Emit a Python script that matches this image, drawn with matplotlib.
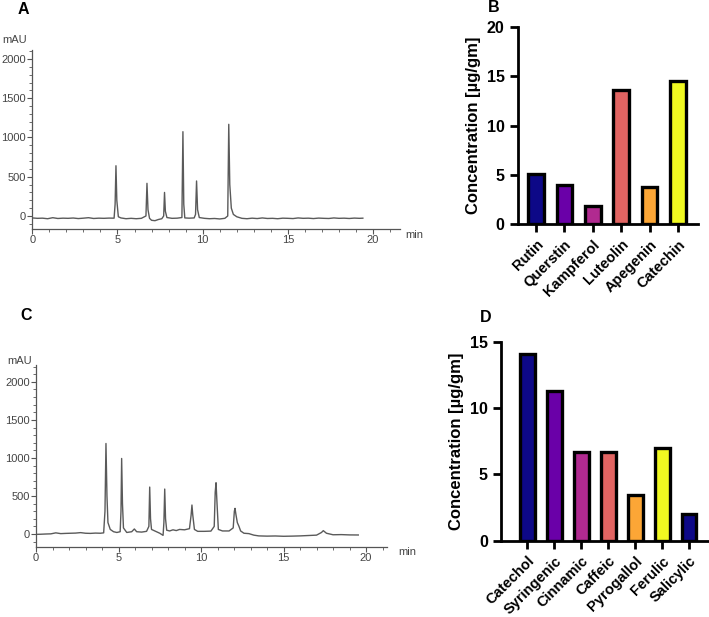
import matplotlib
matplotlib.use("Agg")
import matplotlib.pyplot as plt
from matplotlib.ticker import MultipleLocator

# ---------------- data ----------------
# Chromatogram A (time [min], signal [mAU])
tA = [0.0, 0.3, 0.6, 0.9, 1.2, 1.5, 1.8, 2.1, 2.4, 2.7, 3.0, 3.3, 3.6, 3.9, 4.2, 4.5, 4.8,
      4.86, 4.91, 4.96, 5.05, 5.2, 5.5, 5.8, 6.1, 6.4, 6.67, 6.73, 6.79, 6.88, 7.0, 7.2, 7.4,
      7.6, 7.71, 7.76, 7.81, 7.9, 8.2, 8.5, 8.78, 8.84, 8.89, 8.95, 9.2, 9.5, 9.58, 9.64, 9.70,
      9.8, 10.1, 10.4, 10.7, 11.0, 11.3, 11.47, 11.53, 11.59, 11.68, 11.8, 12.0, 12.3, 12.6,
      12.9, 13.2, 13.5, 13.8, 14.1, 14.4, 14.7, 15.0, 15.3, 15.6, 15.9, 16.2, 16.5, 16.8,
      17.1, 17.4, 17.7, 18.0, 18.3, 18.6, 18.9, 19.2, 19.4]
yA = [-25, -30, -28, -35, -22, -32, -28, -30, -26, -33, -28, -22, -32, -28, -30, -27, -28,
      150, 640, 200, -10, -25, -35, -30, -35, -30, 0, 416, 80, -30, -55, -60, -45,
      -35, 0, 300, 60, -20, -30, -28, -20, 1074, 150, -25, -28, -25, 20, 446, 80,
      -20, -30, -35, -32, -38, -30, 0, 1168, 400, 100, 20, -10, -30, -35,
      -28, -33, -25, -32, -30, -35, -28, -30, -33, -25, -30, -28, -33, -27,
      -30, -32, -25, -30, -28, -32, -27, -30, -28]

# Chromatogram C
tC = [0.0, 0.3, 0.6, 0.9, 1.2, 1.5, 1.8, 2.1, 2.4, 2.7, 3.0, 3.3, 3.6, 3.9, 4.1, 4.18, 4.24,
      4.30, 4.36, 4.5, 4.7, 4.9, 5.1, 5.15, 5.19, 5.24, 5.3, 5.5, 5.8, 5.96, 6.1, 6.4, 6.7,
      6.84, 6.89, 6.94, 7.0, 7.2, 7.5, 7.7, 7.75, 7.80, 7.85, 7.92, 8.1, 8.3, 8.5, 8.7, 9.0,
      9.3, 9.4, 9.45, 9.5, 9.6, 9.8, 10.2, 10.6, 10.8, 10.86, 10.91, 10.97, 11.05, 11.3,
      11.7, 11.95, 12.02, 12.06, 12.12, 12.2, 12.3, 12.4, 12.6, 12.9, 13.2, 13.5, 14.0,
      14.5, 15.0, 15.5, 16.0, 16.5, 17.0, 17.3, 17.41, 17.6, 18.0, 18.5, 19.0, 19.53]
yC = [-5, -3, 0, 2, 15, 5, 8, 10, 12, 18, 10, 8, 12, 10, 15, 300, 1190,
      500, 150, 60, 30, 20, 30, 300, 993, 400, 80, 20, 30, 66, 30, 25, 35,
      100, 617, 200, 60, 40, 10, -18, 150, 591, 200, 50, 40, 55, 45, 60, 55,
      70, 250, 381, 250, 60, 35, 35, 38, 100, 550, 674, 400, 60, 40,
      40, 80, 300, 337, 250, 150, 100, 40, 10, 5, -15, -25, -28,
      -26, -30, -28, -25, -20, -15, 20, 44, 10, -10, -8, -12, -13]

# Bar chart B (flavonoids)
catB = ["Rutin", "Querstin", "Kampferol", "Luteolin", "Apegenin", "Catechin"]
valB = [5.1, 4.0, 1.9, 13.6, 3.8, 14.5]
colB = ["#0d0887", "#6a00a8", "#b12a90", "#e16462", "#fca636", "#f0f921"]

# Bar chart D (phenolic acids)
catD = ["Catechol", "Syringenic", "Cinnamic", "Caffeic", "Pyrogallol", "Ferulic", "Salicylic"]
valD = [14.1, 11.3, 6.65, 6.7, 3.45, 6.95, 2.0]
colD = ["#0d0887", "#6a00a8", "#b12a90", "#e16462", "#fca636", "#f0f921", "#0d0887"]

# ---------------- figure ----------------
W, H = 709, 617
fig = plt.figure(figsize=(W / 100, H / 100), dpi=100)
plt.rcParams['font.family'] = ['Liberation Sans', 'DejaVu Sans']


def rect(l, t, r, b):
    return [l / W, 1 - b / H, (r - l) / W, (b - t) / H]


GRAY = "#555555"
TXT = "#444444"


def chrom(ax, t, y, xlim, ylim):
    ax.plot(t, y, color="#5a5a5a", lw=1.0)
    ax.set_xlim(*xlim)
    ax.set_ylim(*ylim)
    for s in ["top", "right"]:
        ax.spines[s].set_visible(False)
    for s in ["left", "bottom"]:
        ax.spines[s].set_color(GRAY)
        ax.spines[s].set_linewidth(0.9)
    ax.xaxis.set_major_locator(MultipleLocator(5))
    ax.xaxis.set_minor_locator(MultipleLocator(1))
    ax.yaxis.set_major_locator(MultipleLocator(500))
    ax.yaxis.set_minor_locator(MultipleLocator(100))
    ax.tick_params(which="major", length=3.5, width=0.8, color=GRAY, labelsize=8,
                   labelcolor=TXT, pad=1)
    ax.tick_params(which="minor", length=2, width=0.6, color=GRAY)
    ax.patch.set_alpha(0)


axA = fig.add_axes(rect(32.3, 50, 400, 229))
chrom(axA, tA, yA, (0, 21.58), (-166, 2115))
fig.text(2 / W, 1 - 40 / H, "mAU", fontsize=8, color=TXT, va="center", ha="left")
fig.text(405 / W, 1 - 235 / H, "min", fontsize=8, color=TXT, va="center", ha="left")

axC = fig.add_axes(rect(36, 365, 387, 546.7))
chrom(axC, tC, yC, (0, 21.27), (-167, 2222))
fig.text(7 / W, 1 - 361 / H, "mAU", fontsize=8, color=TXT, va="center", ha="left")
fig.text(398 / W, 1 - 552 / H, "min", fontsize=8, color=TXT, va="center", ha="left")


def bars(ax, cats, vals, cols, xlim, ylim, step, width):
    x = list(range(len(cats)))
    ax.bar(x, vals, width=width, color=cols, edgecolor="black", linewidth=2.4, zorder=3)
    ax.set_xlim(*xlim)
    ax.set_ylim(*ylim)
    for s in ["top", "right"]:
        ax.spines[s].set_visible(False)
    for s in ["left", "bottom"]:
        ax.spines[s].set_linewidth(2.0)
    ax.yaxis.set_major_locator(MultipleLocator(step))
    ax.set_xticks(x)
    ax.set_xticklabels(cats, rotation=45, ha="right", rotation_mode="anchor",
                       fontsize=10.5, fontweight="bold")
    ax.tick_params(axis="both", length=6, width=2.0, direction="out")
    ax.tick_params(axis="y", labelsize=11.5)
    for lab in ax.get_yticklabels():
        lab.set_fontweight("bold")
    ax.set_ylabel("Concentration [µg/gm]", fontsize=12, fontweight="bold", labelpad=4)
    ax.patch.set_alpha(0)


axB = fig.add_axes(rect(517.7, 26.7, 698, 224.3))
bars(axB, catB, valB, colB, (-0.64, 5.70), (0, 20), 5, 0.55)

axD = fig.add_axes(rect(501, 341.7, 709, 540.7))
bars(axD, catD, valD, colD, (-0.98, 6.74), (0, 15), 5, 0.55)

for txt, x, y in [("A", 18, 10), ("B", 488, 8), ("C", 20, 316), ("D", 480, 318)]:
    fig.text(x / W, 1 - y / H, txt, fontsize=11.5, fontweight="bold", va="center", ha="left")

fig.savefig("out.png", dpi=100)
